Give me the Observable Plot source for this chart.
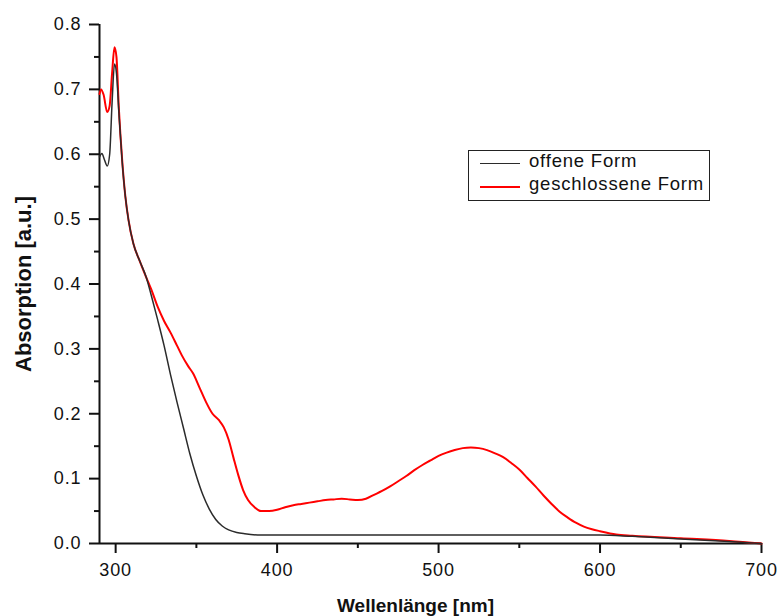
<!DOCTYPE html>
<html>
<head>
<meta charset="utf-8">
<script src="https://cdn.jsdelivr.net/npm/d3@7"></script>
<script src="https://cdn.jsdelivr.net/npm/@observablehq/plot@0.6"></script>
<style>
  html, body { margin: 0; padding: 0; background: #fff; }
  #wrap { position: relative; width: 777px; height: 616px; font-family: "Liberation Sans", Arial, sans-serif; }
  #wrap svg g[aria-label$="tick label"] text { letter-spacing: 0.9px; }
  #legend { position: absolute; left: 468px; top: 150px; width: 242px; height: 51px; box-sizing: border-box; border: 1.5px solid #222; background: #fff; }
  .lg-line { position: absolute; left: 11px; width: 40px; height: 0; }
  .lg-text { position: absolute; left: 60px; font-size: 18.5px; line-height: 18px; color: #111; white-space: nowrap; letter-spacing: 0.8px; }
</style>
</head>
<body>
<div id="wrap"><div id="legend"></div></div>
<script>
// ---- data ----
const seriesNames = ["offene Form", "geschlossene Form"];
const seriesColors = ["#2b2b2b", "#ff0000"];

const wlOpen = [290, 291.5, 293, 294.8, 296.3, 297.8, 299.3, 300.5, 302, 304, 306, 308, 311, 315, 319, 322, 326, 330, 334, 338, 342, 346, 350, 354, 358, 362, 366, 370, 375, 380, 390, 400, 450, 500, 550, 600, 620, 650, 680, 700];
const absOpen = [0.596, 0.601, 0.592, 0.582, 0.600, 0.680, 0.739, 0.725, 0.665, 0.590, 0.535, 0.498, 0.462, 0.435, 0.410, 0.383, 0.345, 0.305, 0.260, 0.218, 0.178, 0.138, 0.104, 0.075, 0.053, 0.037, 0.027, 0.021, 0.017, 0.015, 0.013, 0.013, 0.013, 0.013, 0.013, 0.013, 0.011, 0.007, 0.003, 0.000];

const wlClosed = [290, 291, 292.5, 294.8, 296.3, 297.8, 299.3, 300.5, 302, 304, 306, 308, 311, 315, 319, 322, 326, 330, 334, 338, 341, 345, 348, 352, 356, 360, 364, 367, 370, 373, 376, 379, 382, 386, 390, 395, 400, 405, 410, 415, 420, 425, 430, 435, 440, 445, 450, 455, 460, 465, 470, 475, 480, 485, 490, 495, 500, 505, 510, 515, 520, 525, 530, 535, 540, 545, 550, 555, 560, 565, 570, 575, 580, 585, 590, 595, 600, 610, 620, 650, 680, 700];
const absClosed = [0.693, 0.700, 0.692, 0.665, 0.675, 0.725, 0.765, 0.750, 0.670, 0.592, 0.535, 0.498, 0.462, 0.435, 0.410, 0.392, 0.365, 0.343, 0.325, 0.305, 0.290, 0.273, 0.262, 0.240, 0.218, 0.200, 0.190, 0.179, 0.160, 0.132, 0.105, 0.082, 0.067, 0.056, 0.050, 0.050, 0.052, 0.056, 0.059, 0.061, 0.063, 0.065, 0.067, 0.068, 0.069, 0.068, 0.067, 0.069, 0.075, 0.081, 0.088, 0.096, 0.104, 0.113, 0.121, 0.128, 0.135, 0.140, 0.144, 0.147, 0.148, 0.147, 0.144, 0.139, 0.133, 0.124, 0.114, 0.101, 0.088, 0.074, 0.061, 0.049, 0.040, 0.032, 0.026, 0.022, 0.019, 0.014, 0.012, 0.008, 0.004, 0.000];

const xDomain = [290, 700];
const yDomain = [0, 0.8];
const xTicks = [300, 400, 500, 600, 700];
const xMinorTicks = [350, 450, 550, 650];
const yTicks = [0, 0.1, 0.2, 0.3, 0.4, 0.5, 0.6, 0.7, 0.8];
const yMinorTicks = [0.05, 0.15, 0.25, 0.35, 0.45, 0.55, 0.65, 0.75];
const xTitle = "Wellenlänge [nm]";
const yTitle = "Absorption [a.u.]";

// ---- build tables ----
const openData = wlOpen.map((w, i) => ({wl: w, a: absOpen[i], s: seriesNames[0]}));
const closedData = wlClosed.map((w, i) => ({wl: w, a: absClosed[i], s: seriesNames[1]}));

const tickStyle = {stroke: "#111", strokeWidth: 2};

const chart = Plot.plot({
  width: 777,
  height: 616,
  marginLeft: 99,
  marginRight: 16,
  marginTop: 24,
  marginBottom: 73,
  style: {fontFamily: "'Liberation Sans', Arial, sans-serif", background: "#fff", color: "#111"},
  x: {domain: xDomain},
  y: {domain: yDomain},
  marks: [
    // tick labels
    Plot.axisX(xTicks, {tickSize: 0, tickPadding: 20, fontSize: 18, tickFormat: d => String(d), label: null}),
    Plot.axisY(yTicks, {tickSize: 0, tickPadding: 18, fontSize: 18, tickFormat: d3.format(".1f"), label: null}),
    // outward tick marks (major 10px, minor 5px)
    Plot.ruleX(xTicks, {y1: yDomain[0], y2: yDomain[0], insetBottom: -10, ...tickStyle}),
    Plot.ruleX(xMinorTicks, {y1: yDomain[0], y2: yDomain[0], insetBottom: -5, ...tickStyle}),
    Plot.ruleY(yTicks, {x1: xDomain[0], x2: xDomain[0], insetLeft: -10, ...tickStyle}),
    Plot.ruleY(yMinorTicks, {x1: xDomain[0], x2: xDomain[0], insetLeft: -5, ...tickStyle}),
    // axis lines
    Plot.ruleY([yDomain[0]], {stroke: "#111", strokeWidth: 2}),
    Plot.ruleX([xDomain[0]], {stroke: "#111", strokeWidth: 2}),
    // spectra
    Plot.line(closedData, {x: "wl", y: "a", stroke: seriesColors[1], strokeWidth: 2, curve: "monotone-x"}),
    Plot.line(openData, {x: "wl", y: "a", stroke: seriesColors[0], strokeWidth: 1.5, curve: "monotone-x"}),
    // axis titles
    Plot.text([xTitle], {text: d => d, frameAnchor: "bottom", textAnchor: "middle", lineAnchor: "middle", dy: 62, dx: -15, fontSize: 19, fontWeight: "bold", fill: "#111"}),
    Plot.text([yTitle], {text: d => d, frameAnchor: "left", textAnchor: "middle", lineAnchor: "middle", rotate: -90, dx: -76, fontSize: 22, fontWeight: "bold", fill: "#111"})
  ]
});
document.getElementById("wrap").prepend(chart);

// ---- legend ----
const legend = document.getElementById("legend");
seriesNames.forEach((name, i) => {
  const ln = document.createElement("div");
  ln.className = "lg-line";
  ln.style.top = (12 + i * 23) + "px";
  ln.style.borderTop = (i === 0 ? 1.5 : 2) + "px solid " + seriesColors[i];
  legend.appendChild(ln);
  const tx = document.createElement("div");
  tx.className = "lg-text";
  tx.style.top = (1 + i * 23) + "px";
  tx.textContent = name;
  legend.appendChild(tx);
});
</script>
</body>
</html>
